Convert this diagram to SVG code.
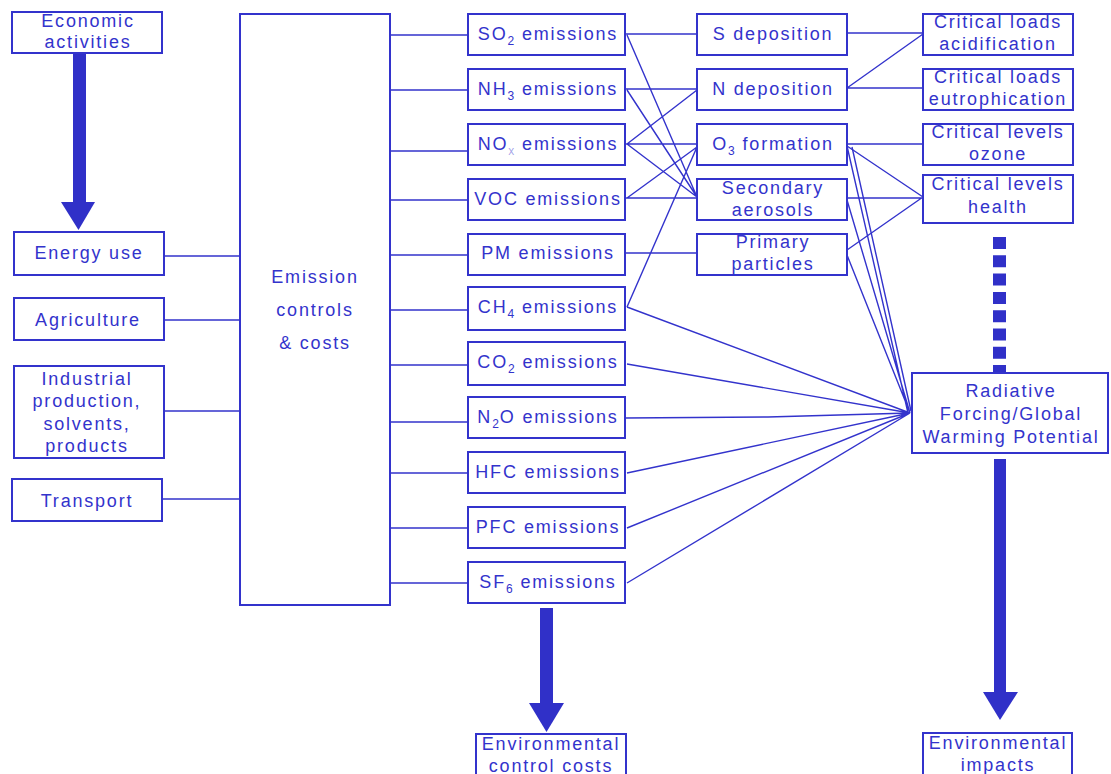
<svg xmlns="http://www.w3.org/2000/svg" width="1111" height="774" viewBox="0 0 1111 774">
<defs>
<style>
.box{fill:#fff;stroke:#3333cc;stroke-width:2}
.ln{fill:none;stroke:#3333cc;stroke-width:1.4}
.t{font-family:"Liberation Sans",Arial,sans-serif;font-size:18px;letter-spacing:1.8px;fill:#3333cc;text-anchor:middle}
.sub{font-size:12px;letter-spacing:1px}
.big{fill:#3030c8}
</style>
</defs>
<rect width="1111" height="774" fill="#fff"/>

<g id="connectors">
<path class="ln" d="M164 256H240M164 320H240M164 411H240M162 499H240"/>
<path class="ln" d="M390 35H468M390 90H468M390 151H468M390 200H468M390 255H468M390 310H468M390 365H468M390 422H468M390 473H468M390 528H468M390 583H468"/>
<path class="ln" d="M625 34H697M627 35L697 197M625 89H697M627 90L697 197M625 144H697M627 144L697 90M627 144L697 197M625 198H697M627 198L697 147M625 253H697M627 307L697 147"/>
<path class="ln" d="M847 33H923M847 88L923 34M847 88H923M847 144H923M847 146L923 197M847 198H923M847 250L923 197"/>
<path class="ln" d="M847 146L908 413M852 147L911 411M847 200L910 413M847 255L910 413M627 307L910 413M627 364L910 413M625 418L768 417L910 413M627 473L910 413M627 528L910 413M627 583L910 413"/>
<path d="M999.5 237V377" stroke="#3030c8" stroke-width="13" stroke-dasharray="12 6.3" fill="none"/>
<g id="arrow-econ" class="big"><rect x="73" y="53" width="13" height="150"/><polygon points="61,202 95,202 78.5,230"/></g>
<g id="arrow-costs" class="big"><rect x="540" y="608" width="13" height="96"/><polygon points="529,703 564,703 546.5,732"/></g>
<g id="arrow-impacts" class="big"><rect x="994" y="459" width="12" height="234"/><polygon points="983,692 1018,692 1000,720"/></g>
</g>

<g id="economic"><rect class="box" x="12" y="12" width="150" height="41"/><text class="t" x="88" y="27">Economic</text><text class="t" x="88" y="48">activities</text></g>
<g id="energy"><rect class="box" x="14" y="232" width="150" height="43"/><text class="t" x="89" y="259">Energy use</text></g>
<g id="agriculture"><rect class="box" x="14" y="298" width="150" height="42"/><text class="t" x="88" y="326">Agriculture</text></g>
<g id="industrial"><rect class="box" x="14" y="366" width="150" height="92"/><text class="t" x="87" y="385">Industrial</text><text class="t" x="87" y="407">production,</text><text class="t" x="87" y="430">solvents,</text><text class="t" x="87" y="452">products</text></g>
<g id="transport"><rect class="box" x="12" y="479" width="150" height="42"/><text class="t" x="87" y="507">Transport</text></g>
<g id="emission-controls"><rect class="box" x="240" y="14" width="150" height="591"/><text class="t" x="315" y="283">Emission</text><text class="t" x="315" y="316">controls</text><text class="t" x="315" y="349">&amp; costs</text></g>

<g id="so2"><rect class="box" x="468" y="14" width="157" height="41"/><text class="t" x="548" y="40">SO<tspan class="sub" dy="5">2</tspan><tspan dy="-5"> emissions</tspan></text></g>
<g id="nh3"><rect class="box" x="468" y="69" width="157" height="41"/><text class="t" x="548" y="95">NH<tspan class="sub" dy="5">3</tspan><tspan dy="-5"> emissions</tspan></text></g>
<g id="nox"><rect class="box" x="468" y="124" width="157" height="41"/><text class="t" x="548" y="150">NO<tspan class="sub" dy="5" fill-opacity="0.45">x</tspan><tspan dy="-5"> emissions</tspan></text></g>
<g id="voc"><rect class="box" x="468" y="179" width="157" height="41"/><text class="t" x="548" y="205">VOC emissions</text></g>
<g id="pm"><rect class="box" x="468" y="234" width="157" height="41"/><text class="t" x="548" y="259">PM emissions</text></g>
<g id="ch4"><rect class="box" x="468" y="287" width="157" height="43"/><text class="t" x="548" y="313">CH<tspan class="sub" dy="5">4</tspan><tspan dy="-5"> emissions</tspan></text></g>
<g id="co2"><rect class="box" x="468" y="342" width="157" height="43"/><text class="t" x="548" y="368">CO<tspan class="sub" dy="5">2</tspan><tspan dy="-5"> emissions</tspan></text></g>
<g id="n2o"><rect class="box" x="468" y="397" width="157" height="41"/><text class="t" x="548" y="423">N<tspan class="sub" dy="5">2</tspan><tspan dy="-5">O emissions</tspan></text></g>
<g id="hfc"><rect class="box" x="468" y="452" width="157" height="41"/><text class="t" x="548" y="478">HFC emissions</text></g>
<g id="pfc"><rect class="box" x="468" y="507" width="157" height="41"/><text class="t" x="548" y="533">PFC emissions</text></g>
<g id="sf6"><rect class="box" x="468" y="562" width="157" height="41"/><text class="t" x="548" y="588">SF<tspan class="sub" dy="5">6</tspan><tspan dy="-5"> emissions</tspan></text></g>

<g id="s-deposition"><rect class="box" x="697" y="14" width="150" height="41"/><text class="t" x="773" y="40">S deposition</text></g>
<g id="n-deposition"><rect class="box" x="697" y="69" width="150" height="41"/><text class="t" x="773" y="95">N deposition</text></g>
<g id="o3-formation"><rect class="box" x="697" y="124" width="150" height="41"/><text class="t" x="773" y="150">O<tspan class="sub" dy="5">3</tspan><tspan dy="-5"> formation</tspan></text></g>
<g id="secondary-aerosols"><rect class="box" x="697" y="179" width="150" height="41"/><text class="t" x="773" y="194">Secondary</text><text class="t" x="773" y="216">aerosols</text></g>
<g id="primary-particles"><rect class="box" x="697" y="234" width="150" height="41"/><text class="t" x="773" y="248">Primary</text><text class="t" x="773" y="270">particles</text></g>

<g id="cl-acid"><rect class="box" x="923" y="14" width="150" height="41"/><text class="t" x="998" y="28">Critical loads</text><text class="t" x="998" y="50">acidification</text></g>
<g id="cl-eutro"><rect class="box" x="923" y="69" width="150" height="41"/><text class="t" x="998" y="83">Critical loads</text><text class="t" x="998" y="105">eutrophication</text></g>
<g id="cl-ozone"><rect class="box" x="923" y="124" width="150" height="41"/><text class="t" x="998" y="138">Critical levels</text><text class="t" x="998" y="160">ozone</text></g>
<g id="cl-health"><rect class="box" x="923" y="175" width="150" height="48"/><text class="t" x="998" y="190">Critical levels</text><text class="t" x="998" y="213">health</text></g>

<g id="radiative"><rect class="box" x="912" y="373" width="196" height="80"/><text class="t" x="1011" y="397">Radiative</text><text class="t" x="1011" y="420">Forcing/Global</text><text class="t" x="1011" y="443">Warming Potential</text></g>

<g id="env-costs"><rect class="box" x="476" y="734" width="150" height="50"/><text class="t" x="551" y="750">Environmental</text><text class="t" x="551" y="772">control costs</text></g>
<g id="env-impacts"><rect class="box" x="923" y="733" width="149" height="50"/><text class="t" x="998" y="749">Environmental</text><text class="t" x="998" y="771">impacts</text></g>
</svg>
